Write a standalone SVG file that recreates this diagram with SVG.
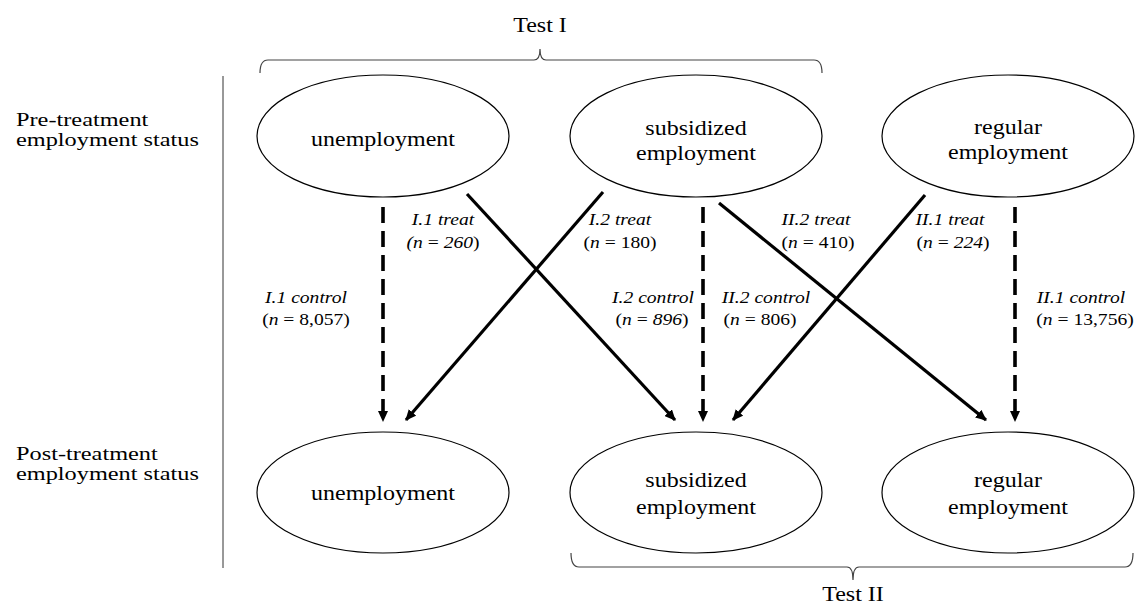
<svg xmlns="http://www.w3.org/2000/svg" width="1137" height="612" viewBox="0 0 1137 612">
<defs>
<marker id="ah" viewBox="0 0 11 10" refX="10" refY="5" markerWidth="11" markerHeight="10" orient="auto" markerUnits="userSpaceOnUse">
<path d="M0,0 L11,5 L0,10 z" fill="#000"/>
</marker>
<style>
.node ellipse{fill:#fff;stroke:#000;stroke-width:1.2}
.lbl{font-family:"Liberation Serif","Times New Roman",serif;font-size:20px;fill:#000;text-anchor:middle}
.side{font-family:"Liberation Serif","Times New Roman",serif;font-size:19px;fill:#000}
.el{font-family:"Liberation Serif","Times New Roman",serif;font-size:17.5px;fill:#000;text-anchor:middle;font-style:italic}
.up{font-style:normal}
.solid{stroke:#000;stroke-width:3.2;fill:none;marker-end:url(#ah)}
.dash{stroke:#000;stroke-width:3.6;fill:none;stroke-dasharray:16 8;marker-end:url(#ah)}
.brace{stroke:#444;stroke-width:1.2;fill:none}
.axis{stroke:#333;stroke-width:1}
</style>
</defs>
<rect width="1137" height="612" fill="#fff"/>

<g id="braces">
<path class="brace" d="M260,73 Q260,60 268,60 L534,60 Q540,60 540,49 Q540,60 546,60 L814,60 Q822,60 822,73"/>
<text class="lbl" transform="translate(540,32) scale(1.2,1)">Test I</text>
<path class="brace" d="M571,553 Q571,567 579,567 L847,567 Q853,567 853,580 Q853,567 859,567 L1125,567 Q1133,567 1133,553"/>
<text class="lbl" transform="translate(853,601) scale(1.2,1)">Test II</text>
</g>

<g id="axis">
<line class="axis" x1="223" y1="76" x2="223" y2="568"/>
<text class="side" transform="translate(16,126) scale(1.28,1)">Pre-treatment</text>
<text class="side" transform="translate(16,146) scale(1.28,1)">employment status</text>
<text class="side" transform="translate(16,460) scale(1.28,1)">Post-treatment</text>
<text class="side" transform="translate(16,480) scale(1.28,1)">employment status</text>
</g>

<g id="connectors">
<line class="dash" x1="383" y1="207" x2="383" y2="421"/>
<line class="dash" x1="703" y1="207" x2="703" y2="421"/>
<line class="dash" x1="1015" y1="207" x2="1015" y2="421"/>
<line class="solid" x1="467" y1="194" x2="675" y2="420"/>
<line class="solid" x1="603" y1="192" x2="406" y2="420"/>
<line class="solid" x1="719" y1="203" x2="986" y2="420"/>
<line class="solid" x1="925" y1="195" x2="733" y2="420"/>
</g>

<g id="edge-labels">
<text class="el" transform="translate(443,225) scale(1.12,1)">I.1 treat</text>
<text class="el" transform="translate(443,248) scale(1.12,1)">(<tspan>n</tspan><tspan class="up"> = </tspan>260<tspan class="up">)</tspan></text>
<text class="el" transform="translate(620,225) scale(1.12,1)">I.2 treat</text>
<text class="el" transform="translate(620,248) scale(1.12,1)"><tspan class="up">(</tspan>n<tspan class="up"> = 180)</tspan></text>
<text class="el" transform="translate(816,225) scale(1.12,1)">II.2 treat</text>
<text class="el" transform="translate(818,248) scale(1.12,1)"><tspan class="up">(</tspan>n<tspan class="up"> = 410)</tspan></text>
<text class="el" transform="translate(950,225) scale(1.12,1)">II.1 treat</text>
<text class="el" transform="translate(953,248) scale(1.12,1)"><tspan class="up">(</tspan>n<tspan class="up"> = </tspan>224<tspan class="up">)</tspan></text>
<text class="el" transform="translate(306,303) scale(1.12,1)">I.1 control</text>
<text class="el" transform="translate(306,325) scale(1.12,1)"><tspan class="up">(</tspan>n<tspan class="up"> = 8,057)</tspan></text>
<text class="el" transform="translate(653,303) scale(1.12,1)">I.2 control</text>
<text class="el" transform="translate(652,325) scale(1.12,1)"><tspan class="up">(</tspan>n<tspan class="up"> = </tspan>896<tspan class="up">)</tspan></text>
<text class="el" transform="translate(766,303) scale(1.12,1)">II.2 control</text>
<text class="el" transform="translate(760,325) scale(1.12,1)"><tspan class="up">(</tspan>n<tspan class="up"> = 806)</tspan></text>
<text class="el" transform="translate(1081,303) scale(1.12,1)">II.1 control</text>
<text class="el" transform="translate(1085,325) scale(1.12,1)"><tspan class="up">(</tspan>n<tspan class="up"> = 13,756)</tspan></text>
</g>

<g id="pre-unemployment" class="node">
<ellipse cx="383" cy="136" rx="126" ry="61"/>
<text class="lbl" transform="translate(383,146) scale(1.2,1)">unemployment</text>
</g>
<g id="pre-subsidized" class="node">
<ellipse cx="696" cy="136" rx="126" ry="61"/>
<text class="lbl" transform="translate(696,135) scale(1.2,1)">subsidized</text>
<text class="lbl" transform="translate(696,160) scale(1.2,1)">employment</text>
</g>
<g id="pre-regular" class="node">
<ellipse cx="1008" cy="136" rx="126" ry="61"/>
<text class="lbl" transform="translate(1008,134) scale(1.2,1)">regular</text>
<text class="lbl" transform="translate(1008,159) scale(1.2,1)">employment</text>
</g>
<g id="post-unemployment" class="node">
<ellipse cx="383" cy="492.5" rx="126" ry="60.5"/>
<text class="lbl" transform="translate(383,500) scale(1.2,1)">unemployment</text>
</g>
<g id="post-subsidized" class="node">
<ellipse cx="696" cy="492.5" rx="126" ry="60.5"/>
<text class="lbl" transform="translate(696,487) scale(1.2,1)">subsidized</text>
<text class="lbl" transform="translate(696,514) scale(1.2,1)">employment</text>
</g>
<g id="post-regular" class="node">
<ellipse cx="1008" cy="492.5" rx="126" ry="60.5"/>
<text class="lbl" transform="translate(1008,487) scale(1.2,1)">regular</text>
<text class="lbl" transform="translate(1008,514) scale(1.2,1)">employment</text>
</g>
</svg>
